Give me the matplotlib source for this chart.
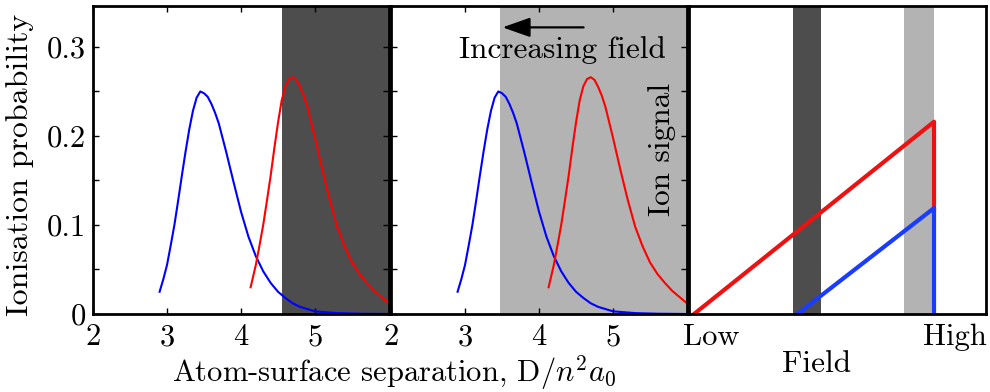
import matplotlib
matplotlib.use('Agg')
import matplotlib.pyplot as plt

plt.rcParams['font.family'] = 'serif'
plt.rcParams['font.serif'] = ['cmr10']
plt.rcParams['mathtext.fontset'] = 'cm'
plt.rcParams['axes.formatter.use_mathtext'] = True

# ionisation probability curves (separation in units of n^2 a0)
blue_x = [2.9, 2.95, 3.0, 3.05, 3.1, 3.15, 3.2, 3.25, 3.3, 3.35, 3.4, 3.45,
          3.5, 3.55, 3.6, 3.65, 3.7, 3.8, 3.9, 4.0, 4.1, 4.2, 4.3, 4.4, 4.5,
          4.6, 4.7, 4.8, 5.0, 5.3, 5.6, 6.0]
blue_y = [0.025, 0.039, 0.055, 0.077, 0.10, 0.127, 0.155, 0.182, 0.207,
          0.228, 0.243, 0.25, 0.248, 0.244, 0.236, 0.226, 0.214, 0.182,
          0.148, 0.115, 0.087, 0.065, 0.048, 0.035, 0.025, 0.018, 0.012,
          0.008, 0.003, 0.001, 0.0003, 0.0]
red_x = [4.13, 4.2, 4.25, 4.3, 4.35, 4.4, 4.45, 4.5, 4.55, 4.6, 4.65, 4.7,
         4.75, 4.8, 4.85, 4.9, 5.0, 5.1, 5.2, 5.3, 5.4, 5.5, 5.6, 5.7, 5.8,
         5.9, 6.0]
red_y = [0.03, 0.055, 0.077, 0.10, 0.127, 0.155, 0.186, 0.215, 0.240, 0.256,
         0.264, 0.266, 0.263, 0.255, 0.245, 0.232, 0.198, 0.162, 0.128,
         0.098, 0.076, 0.058, 0.045, 0.035, 0.026, 0.019, 0.012]

# field windows
dark_band = (4.55, 6.0)
light_band = (3.47, 6.0)

# schematic ion signal vs field
sig_red_x = [0.017, 0.825, 0.825]
sig_red_y = [0.0, 0.216, 0.119]
sig_blue_x = [0.365, 0.825, 0.825]
sig_blue_y = [0.0, 0.119, 0.0]
field_dark = (0.35, 0.445)
field_light = (0.725, 0.825)

fig = plt.figure(figsize=(9.9, 3.92), dpi=100)
ax1 = fig.add_axes([93 / 990, 78 / 392, 296 / 990, 308 / 392])
ax2 = fig.add_axes([391 / 990, 78 / 392, 296 / 990, 308 / 392])
ax3 = fig.add_axes([689 / 990, 78 / 392, 297 / 990, 308 / 392])

for ax, band in [(ax1, dark_band), (ax2, light_band)]:
    col = '#4d4d4d' if ax is ax1 else '#b3b3b3'
    ax.axvspan(band[0], band[1], color=col, lw=0)
    ax.plot(blue_x, blue_y, color='blue', lw=1.5)
    ax.plot(red_x, red_y, color='red', lw=1.5)
    ax.set_xlim(2, 6)
    ax.set_ylim(0, 0.346)
    ax.set_xticks([2, 3, 4, 5])
    ax.set_yticks([0, 0.05, 0.1, 0.15, 0.2, 0.25, 0.3])
    ax.tick_params(direction='in', length=4, width=1, top=True, right=True,
                   labelsize=22)
    ax.tick_params(axis='x', pad=7)
    ax.tick_params(axis='y', pad=5)

ax1.set_yticklabels(['0', '', '0.1', '', '0.2', '', '0.3'])
ax2.set_yticklabels([])

ax2.annotate('', xy=(3.47, 0.322), xytext=(4.64, 0.322),
             arrowprops=dict(arrowstyle='-|>,head_length=0.85,head_width=0.3',
                             mutation_scale=20, color='black', lw=1.6))
ax2.text(4.31, 0.297, 'Increasing field', fontsize=22.5, ha='center',
         va='center')

ax3.axvspan(field_dark[0], field_dark[1], color='#4d4d4d', lw=0)
ax3.axvspan(field_light[0], field_light[1], color='#b3b3b3', lw=0)
ax3.plot(sig_red_x, sig_red_y, color='#ee1111', lw=3)
ax3.plot(sig_blue_x, sig_blue_y, color='#1a3cff', lw=3)
ax3.set_xlim(0, 1)
ax3.set_ylim(0, 0.346)
ax3.set_xticks([])
ax3.set_yticks([])
ax3.text(0.074, -0.075, 'Low', fontsize=22, ha='center', va='center',
         transform=ax3.get_xaxis_transform())
ax3.text(0.895, -0.075, 'High', fontsize=22, ha='center', va='center',
         transform=ax3.get_xaxis_transform())

for ax in (ax1, ax2, ax3):
    for sp in ax.spines.values():
        sp.set_linewidth(2)

fig.text(20 / 990, 1 - 165 / 392, 'Ionisation probability', rotation=90,
         fontsize=23, ha='center', va='center')
fig.text(394 / 990, 1 - 373 / 392,
         r'Atom-surface separation, D$/n^2a_0$', fontsize=22, ha='center',
         va='center')
fig.text(662 / 990, 1 - 149 / 392, 'Ion signal', rotation=90, fontsize=22.5,
         ha='center', va='center')
fig.text(817 / 990, 1 - 364 / 392, 'Field', fontsize=22.5, ha='center',
         va='center')

fig.savefig('out.png', dpi=100)
